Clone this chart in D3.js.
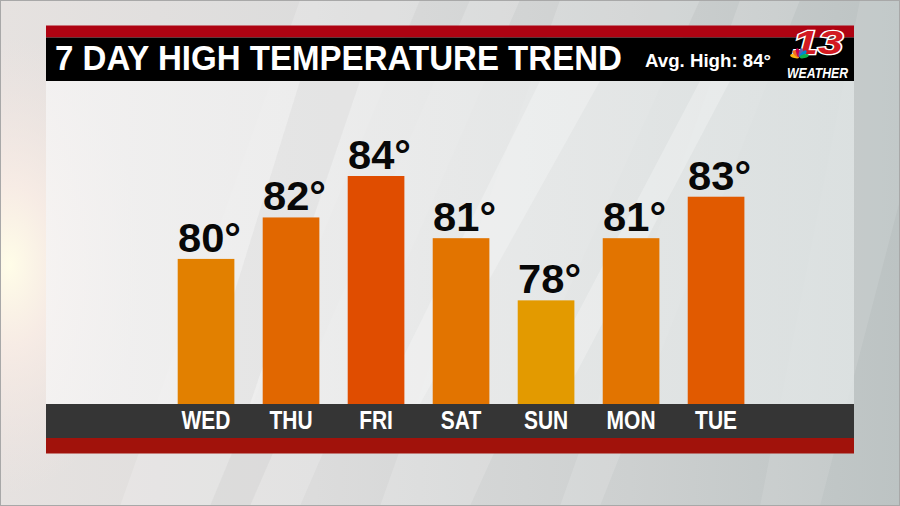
<!DOCTYPE html>
<html>
<head>
<meta charset="utf-8">
<script src="https://cdn.jsdelivr.net/npm/d3@7"></script>
<style>
  html, body { margin: 0; padding: 0; background: #d4d4d4; }
  svg { display: block; }
</style>
</head>
<body>
<svg id="chart" width="900" height="506"></svg>
<script>
// ---- data ----
const days = ["WED", "THU", "FRI", "SAT", "SUN", "MON", "TUE"];
const highs = [80, 82, 84, 81, 78, 81, 83];
const titleText = "7 DAY HIGH TEMPERATURE TREND";
const avgHigh = 84;
const logoNumber = "13";
const logoWord = "WEATHER";

// ---- layout ----
const W = 900, H = 506;
const panel = { x0: 46, x1: 854, redTop: 25.5, headTop: 37.5, headBottom: 81, base: 404, bandBottom: 438, bottom: 453.5 };

const svg = d3.select("#chart");
const defs = svg.append("defs");

// background gradients
const bg = defs.append("linearGradient").attr("id", "bgGrad").attr("x1", "0").attr("x2", "1").attr("y1", "0").attr("y2", "0");
bg.append("stop").attr("offset", "0").attr("stop-color", "#e6e2e0");
bg.append("stop").attr("offset", "0.35").attr("stop-color", "#dcdcdc");
bg.append("stop").attr("offset", "0.7").attr("stop-color", "#cdd0d0");
bg.append("stop").attr("offset", "1").attr("stop-color", "#bcc3c3");

const glow = defs.append("radialGradient").attr("id", "glow").attr("cx", "0.5").attr("cy", "0.5").attr("r", "0.5");
glow.append("stop").attr("offset", "0").attr("stop-color", "#fffde8").attr("stop-opacity", 1);
glow.append("stop").attr("offset", "0.35").attr("stop-color", "#fbeee6").attr("stop-opacity", 0.8);
glow.append("stop").attr("offset", "1").attr("stop-color", "#f4e6e2").attr("stop-opacity", 0);

const panelGrad = defs.append("linearGradient").attr("id", "panelGrad").attr("x1", "0").attr("x2", "1").attr("y1", "0").attr("y2", "0");
panelGrad.append("stop").attr("offset", "0").attr("stop-color", "#f5f4f4");
panelGrad.append("stop").attr("offset", "0.5").attr("stop-color", "#ebecec");
panelGrad.append("stop").attr("offset", "1").attr("stop-color", "#e0e5e5");

svg.append("rect").attr("width", W).attr("height", H).attr("fill", "url(#bgGrad)");

// soft studio shapes
const shapes = [
  { pts: [[300, 0], [520, 0], [300, 506], [120, 506]], o: 0.18, c: "#ffffff" },
  { pts: [[560, 0], [700, 0], [470, 506], [380, 506]], o: 0.16, c: "#ffffff" },
  { pts: [[740, 0], [800, 0], [600, 506], [560, 506]], o: 0.14, c: "#ffffff" },
  { pts: [[420, 0], [470, 0], [250, 506], [210, 506]], o: 0.10, c: "#9a9e9e" },
  { pts: [[860, 0], [900, 0], [900, 200], [820, 506], [760, 506]], o: 0.10, c: "#ffffff" }
];
svg.append("g").selectAll("polygon").data(shapes).join("polygon")
  .attr("points", d => d.pts.map(p => p.join(",")).join(" "))
  .attr("fill", d => d.c).attr("opacity", d => d.o);

svg.append("ellipse").attr("cx", 10).attr("cy", 265).attr("rx", 130).attr("ry", 230).attr("fill", "url(#glow)");

// chart panel
svg.append("rect").attr("x", panel.x0).attr("y", panel.headBottom).attr("width", panel.x1 - panel.x0)
  .attr("height", panel.base - panel.headBottom).attr("fill", "url(#panelGrad)").attr("opacity", 0.82);

// faint shapes within panel
const inner = [
  { pts: [[300, 81], [360, 81], [250, 404], [200, 404]], o: 0.35, c: "#d8d8d8" },
  { pts: [[540, 81], [600, 81], [420, 404], [380, 404]], o: 0.25, c: "#ffffff" },
  { pts: [[700, 81], [730, 81], [560, 404], [530, 404]], o: 0.25, c: "#ffffff" }
];
svg.append("g").selectAll("polygon").data(inner).join("polygon")
  .attr("points", d => d.pts.map(p => p.join(",")).join(" "))
  .attr("fill", d => d.c).attr("opacity", d => d.o);

// header bands
svg.append("rect").attr("x", panel.x0).attr("y", panel.redTop).attr("width", panel.x1 - panel.x0)
  .attr("height", panel.headTop - panel.redTop).attr("fill", "#ae0312");
svg.append("rect").attr("x", panel.x0).attr("y", panel.headTop).attr("width", panel.x1 - panel.x0)
  .attr("height", panel.headBottom - panel.headTop).attr("fill", "#000000");

// bottom bands
svg.append("rect").attr("x", panel.x0).attr("y", panel.base).attr("width", panel.x1 - panel.x0)
  .attr("height", panel.bandBottom - panel.base).attr("fill", "#353535");
svg.append("rect").attr("x", panel.x0).attr("y", panel.bandBottom).attr("width", panel.x1 - panel.x0)
  .attr("height", panel.bottom - panel.bandBottom).attr("fill", "#a1120b");

// title
const sans = "'Liberation Sans', 'Roboto', sans-serif";
svg.append("text").attr("x", 55).attr("y", 69.5).text(titleText)
  .attr("font-family", sans).attr("font-weight", "bold").attr("font-size", 34.5)
  .attr("fill", "#ffffff").attr("textLength", 567).attr("lengthAdjust", "spacingAndGlyphs");

svg.append("text").attr("x", 645).attr("y", 67).text("Avg. High: " + avgHigh + "°")
  .attr("font-family", sans).attr("font-weight", "bold").attr("font-size", 19)
  .attr("fill", "#ffffff").attr("textLength", 126).attr("lengthAdjust", "spacingAndGlyphs");

// logo
const logo = svg.append("g");
logo.append("text").attr("x", 793).attr("y", 54).text(logoNumber)
  .attr("font-family", sans).attr("font-weight", "bold").attr("font-style", "italic")
  .attr("font-size", 34).attr("fill", "#d21a22").attr("stroke", "#ffffff").attr("stroke-width", 2.6)
  .attr("paint-order", "stroke").attr("textLength", 50).attr("lengthAdjust", "spacingAndGlyphs");
const feathers = ["#fcb711", "#f37021", "#cc004c", "#6460aa", "#0089d0", "#0db14b"];
const pc = { x: 799.5, y: 57.5 };
logo.append("g").selectAll("ellipse").data(feathers).join("ellipse")
  .attr("cx", 0).attr("cy", -5).attr("rx", 1.9).attr("ry", 4.6)
  .attr("fill", d => d)
  .attr("transform", (d, i) => `translate(${pc.x},${pc.y}) rotate(${-75 + i * 30})`);
logo.append("text").attr("x", 787).attr("y", 77.5).text(logoWord)
  .attr("font-family", sans).attr("font-weight", "bold").attr("font-style", "italic")
  .attr("font-size", 15.5).attr("fill", "#ffffff").attr("textLength", 61).attr("lengthAdjust", "spacingAndGlyphs");

// ---- scales ----
const x = d3.scaleBand().domain(days).range([177.7, 744.4]).paddingInner(1 / 3).paddingOuter(0);
const y = d3.scaleLinear().domain([73, 84]).range([panel.base, 176]);
const color = d3.scaleLinear().domain([78, 84]).range(["#e39a00", "#e04d00"]);

const data = days.map((d, i) => ({ day: d, v: highs[i] }));

// bars
svg.append("g").selectAll("rect").data(data).join("rect")
  .attr("x", d => x(d.day)).attr("width", x.bandwidth())
  .attr("y", d => y(d.v)).attr("height", d => y.range()[0] - y(d.v))
  .attr("fill", d => color(d.v));

// value labels
svg.append("g").selectAll("text").data(data).join("text")
  .attr("x", d => x(d.day) + x.bandwidth() / 2 + 3.5)
  .attr("y", d => y(d.v) - 7)
  .attr("text-anchor", "middle")
  .attr("font-family", sans).attr("font-weight", "bold")
  .attr("font-size", 41).attr("fill", "#080808")
  .attr("textLength", 63).attr("lengthAdjust", "spacingAndGlyphs")
  .text(d => d.v + "°");

// day axis
const axis = svg.append("g").attr("transform", `translate(0,${panel.base})`)
  .call(d3.axisBottom(x).tickSize(0).tickPadding(7.5));
axis.select(".domain").remove();
axis.selectAll("text")
  .attr("font-family", sans).attr("font-weight", "bold").attr("font-size", 25)
  .attr("fill", "#ffffff").attr("transform", "scale(0.84,1)");

// outer frame line
svg.append("rect").attr("x", 0.5).attr("y", 0.5).attr("width", W - 1).attr("height", H - 1)
  .attr("fill", "none").attr("stroke", "#a8a8a8").attr("stroke-width", 1);
</script>
</body>
</html>
